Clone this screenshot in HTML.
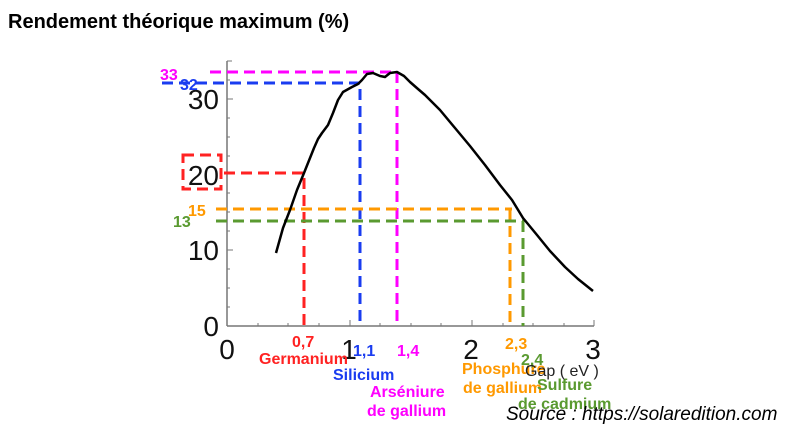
<!DOCTYPE html>
<html><head><meta charset="utf-8"><style>
body{margin:0;background:#fff;width:797px;height:429px;overflow:hidden}
svg{display:block}
</style></head><body>
<svg width="797" height="429" xmlns="http://www.w3.org/2000/svg" font-family="Liberation Sans, sans-serif">
<text x="8" y="28" font-size="20" font-weight="bold" fill="#000">Rendement théorique maximum (%)</text>
<g stroke="#777" stroke-width="1.5" fill="none">
<line x1="227" y1="61" x2="227" y2="326"/>
<line x1="227" y1="326" x2="594" y2="326"/>
</g>
<g stroke="#777" stroke-width="1">
<line x1="227" y1="99" x2="233" y2="99"/><line x1="227" y1="174" x2="233" y2="174"/><line x1="227" y1="250" x2="233" y2="250"/>
<line x1="227" y1="61" x2="232" y2="61"/>
<line x1="227" y1="80" x2="230" y2="80"/><line x1="227" y1="118" x2="230" y2="118"/><line x1="227" y1="137" x2="230" y2="137"/><line x1="227" y1="156" x2="230" y2="156"/><line x1="227" y1="193" x2="230" y2="193"/><line x1="227" y1="212" x2="230" y2="212"/><line x1="227" y1="231" x2="230" y2="231"/><line x1="227" y1="269" x2="230" y2="269"/><line x1="227" y1="288" x2="230" y2="288"/><line x1="227" y1="307" x2="230" y2="307"/>
<line x1="350" y1="320" x2="350" y2="326"/><line x1="472" y1="320" x2="472" y2="326"/><line x1="594" y1="320" x2="594" y2="326"/>
<line x1="258" y1="323" x2="258" y2="326"/><line x1="288" y1="323" x2="288" y2="326"/><line x1="319" y1="323" x2="319" y2="326"/><line x1="380" y1="323" x2="380" y2="326"/><line x1="411" y1="323" x2="411" y2="326"/><line x1="441" y1="323" x2="441" y2="326"/><line x1="503" y1="323" x2="503" y2="326"/><line x1="533" y1="323" x2="533" y2="326"/><line x1="564" y1="323" x2="564" y2="326"/>
</g>
<g font-size="28" fill="#111" text-anchor="end">
<text x="219" y="109">30</text><text x="219" y="185">20</text><text x="219" y="260">10</text><text x="219" y="336">0</text>
</g>
<g font-size="28" fill="#111" text-anchor="middle">
<text x="227" y="359">0</text><text x="349" y="359">1</text><text x="471" y="359">2</text><text x="593" y="359">3</text>
</g>
<g fill="none" stroke-width="3" stroke-dasharray="11,6">
<path d="M224 173 H304 V326" stroke="#f22"/>
<rect x="183" y="155" width="38" height="34" stroke="#f22"/>
<path d="M162 83 H360 V326" stroke="#1a3cf0"/>
<path d="M210 72 H397 V326" stroke="#f0f"/>
<path d="M216 209 H512 M510 209 V326" stroke="#f90"/>
<path d="M216 221 H524 M523 221 V326" stroke="#5a9a30"/>
</g>
<path d="M276 253 L283 228 L290 210 L297 190 L304 173 L310 158 L314 148 L318 139 L322 133 L328 125 L333 113 L338 100 L343 92 L352 87 L358 84 L362 80 L367 74 L373 73 L380 76 L385 77 L390 73 L397 72 L404 76 L410 82 L418 89 L425 95 L432 102 L440 110 L455 128 L470 146 L485 165 L500 185 L512 200 L523 218 L537 235 L550 251 L565 267 L578 279 L593 291" fill="none" stroke="#000" stroke-width="2.5" stroke-linejoin="round"/>
<g font-size="16" font-weight="bold">
<text x="160" y="80" fill="#f0f">33</text>
<text x="180" y="90" fill="#1a3cf0">32</text>
<text x="188" y="216" fill="#f90">15</text>
<text x="173" y="227" fill="#5a9a30">13</text>
<text x="292" y="347" fill="#f22">0,7</text>
<text x="259" y="364" fill="#f22">Germanium</text>
<text x="353" y="356" fill="#1a3cf0">1,1</text>
<text x="333" y="380" fill="#1a3cf0">Silicium</text>
<text x="397" y="356" fill="#f0f">1,4</text>
<text x="370" y="397" fill="#f0f">Arséniure</text>
<text x="367" y="416" fill="#f0f">de gallium</text>
<text x="505" y="349" fill="#f90">2,3</text>
<text x="462" y="374" fill="#f90">Phosphure</text>
<text x="463" y="393" fill="#f90">de gallium</text>
<text x="521" y="365" fill="#5a9a30">2,4</text>
<text x="537" y="390" fill="#5a9a30">Sulfure</text>
<text x="518" y="409" fill="#5a9a30">de cadmium</text>
</g>
<text x="525" y="376" font-size="16" fill="#222">Gap ( eV )</text>
<text x="506" y="420" font-size="19" font-style="italic" fill="#000">Source : https://solaredition.com</text>
</svg>
</body></html>
